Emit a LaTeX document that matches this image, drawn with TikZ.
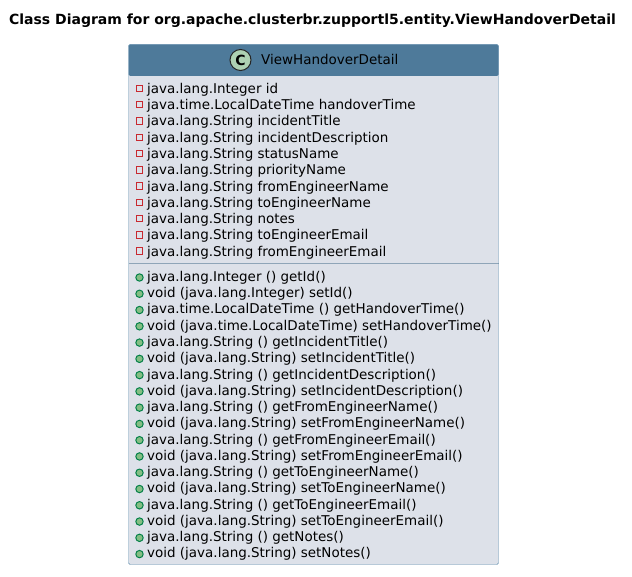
\documentclass[tikz,border=0pt]{standalone}
\usepackage{fontspec}
\setmainfont{DejaVu Sans}
\usetikzlibrary{positioning}
\definecolor{headblue}{HTML}{4E7A9A}
\definecolor{bodygrey}{HTML}{DDE1E9}
\definecolor{edgeblue}{HTML}{5E8DAD}
\definecolor{rulegrey}{HTML}{8FA5B8}
\definecolor{fieldred}{HTML}{C82930}
\definecolor{methgreen}{HTML}{84BE84}
\definecolor{methedge}{HTML}{038048}
\tikzset{
  member/.style={anchor=base west,inner sep=0pt,font=\fontsize{13.47}{15}\selectfont,text=black},
  fieldmark/.style={draw=fieldred,line width=1pt,fill=none,minimum size=6.4pt,inner sep=0pt},
  methmark/.style={circle,draw=methedge,line width=1pt,fill=methgreen,minimum size=7.4pt,inner sep=0pt},
}
\begin{document}
\begin{tikzpicture}[x=1pt,y=-1pt]
    \useasboundingbox (0,0) rectangle (632,577);
    \fill[white] (0,0) rectangle (632,577);
    \node[anchor=base,inner sep=0pt,font=\fontsize{14}{16}\selectfont\bfseries] (title) at (312.5,24.5)
      {Class Diagram for org.apache.clusterbr.zupportl5.entity.ViewHandoverDetail};
    \fill[bodygrey,rounded corners=1.5pt] (128.5,44.5) rectangle (498.5,564.5);
    \fill[headblue,rounded corners=1.5pt] (128.5,44.5) rectangle (498.5,76);
    \draw[rulegrey] (128.5,263.5) -- (498.5,263.5);
    \draw[edgeblue,rounded corners=1.5pt] (128.5,44.5) rectangle (498.5,564.5);
    \node[circle,draw=black!85,line width=1pt,fill={rgb,255:red,173;green,209;blue,178},minimum size=21pt,inner sep=0pt,
      font=\fontsize{14}{15}\selectfont\bfseries] (badge) at (240.5,60) {C};
    \node[member] (name) at (261,65) {ViewHandoverDetail};
    % attributes
    \foreach \n/\txt in {0/java.lang.Integer id,
        1/java.time.LocalDateTime handoverTime,
        2/java.lang.String incidentTitle,
        3/java.lang.String incidentDescription,
        4/java.lang.String statusName,
        5/java.lang.String priorityName,
        6/java.lang.String fromEngineerName,
        7/java.lang.String toEngineerName,
        8/java.lang.String notes,
        9/java.lang.String toEngineerEmail,
        10/java.lang.String fromEngineerEmail}
    {
      \node[fieldmark] (fm\n) at (139.5,88.5+16.27*\n) {};
      \node[member] (f\n) at (147,93.4+16.27*\n) {\txt};
    }
    % operations
    \foreach \n/\txt in {0/java.lang.Integer () getId(),
        1/void (java.lang.Integer) setId(),
        2/java.time.LocalDateTime () getHandoverTime(),
        3/void (java.time.LocalDateTime) setHandoverTime(),
        4/java.lang.String () getIncidentTitle(),
        5/void (java.lang.String) setIncidentTitle(),
        6/java.lang.String () getIncidentDescription(),
        7/void (java.lang.String) setIncidentDescription(),
        8/java.lang.String () getFromEngineerName(),
        9/void (java.lang.String) setFromEngineerName(),
        10/java.lang.String () getFromEngineerEmail(),
        11/void (java.lang.String) setFromEngineerEmail(),
        12/java.lang.String () getToEngineerName(),
        13/void (java.lang.String) setToEngineerName(),
        14/java.lang.String () getToEngineerEmail(),
        15/void (java.lang.String) setToEngineerEmail(),
        16/java.lang.String () getNotes(),
        17/void (java.lang.String) setNotes()}
    {
      \node[methmark] (mm\n) at (139.5,277.5+16.27*\n) {};
      \node[member] (m\n) at (147,281.4+16.27*\n) {\txt};
    }
\end{tikzpicture}
\end{document}
